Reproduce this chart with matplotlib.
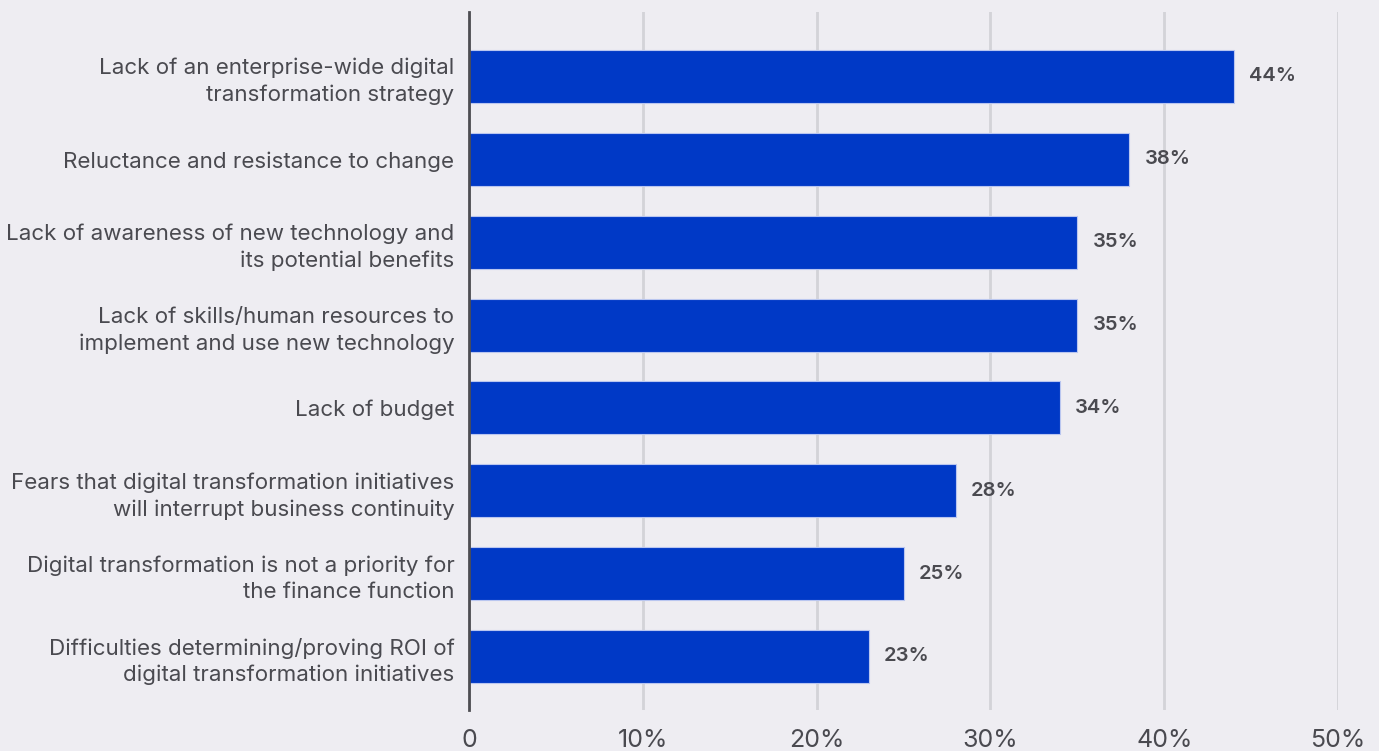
import matplotlib.pyplot as plt
from matplotlib.ticker import FixedLocator, FixedFormatter

plt.rcParams['font.family'] = ['Inter', 'DejaVu Sans']

# survey barriers, top to bottom
barriers = [
    "Lack of an enterprise-wide digital\ntransformation strategy",
    "Reluctance and resistance to change",
    "Lack of awareness of new technology and\nits potential benefits",
    "Lack of skills/human resources to\nimplement and use new technology",
    "Lack of budget",
    "Fears that digital transformation initiatives\nwill interrupt business continuity",
    "Digital transformation is not a priority for\nthe finance function",
    "Difficulties determining/proving ROI of\ndigital transformation initiatives",
]
shares = [44, 38, 35, 35, 34, 28, 25, 23]
x_ticks = [0, 10, 20, 30, 40, 50]
x_tick_labels = ["0", "10%", "20%", "30%", "40%", "50%"]

bg = "#EEEDF2"
bar_col = "#0039C6"
txt_col = "#4A4A50"

fig = plt.figure(figsize=(13.79, 7.51), dpi=100, facecolor=bg)
ax = fig.add_axes([469/1379, 1 - 710/751, (1338 - 469)/1379, (710 - 12)/751])
ax.set_facecolor(bg)

pos = list(range(len(barriers)))
bars = ax.barh(pos, shares, height=0.64, color=bar_col,
               edgecolor="#B9C6F0", linewidth=0.8, zorder=3)

for b, v in zip(bars, shares):
    ax.annotate(f"{v}%", (b.get_width(), b.get_y() + b.get_height()/2),
                xytext=(11, 0), textcoords="offset points",
                ha="left", va="center", fontsize=14.5, fontweight="semibold",
                color=txt_col)

ax.set_xlim(0, 50)
ax.set_ylim(7.646, -0.778)

ax.xaxis.set_major_locator(FixedLocator(x_ticks))
ax.xaxis.set_major_formatter(FixedFormatter(x_tick_labels))
ax.set_yticks(pos)
ax.set_yticklabels(barriers, fontsize=16.1, color=txt_col, linespacing=1.38)
ax.tick_params(axis="x", length=0, pad=14, labelsize=18, labelcolor=txt_col)
ax.tick_params(axis="y", length=0, pad=10.5)

ax.grid(axis="x", color="#D3D3D8", linewidth=2, zorder=0)
ax.set_axisbelow(True)

for s in ["top", "right", "bottom"]:
    ax.spines[s].set_visible(False)
ax.spines["left"].set_color("#4D4D52")
ax.spines["left"].set_linewidth(2)
ax.spines["left"].set_zorder(4)

fig.savefig("out.png", dpi=100, facecolor=bg)
